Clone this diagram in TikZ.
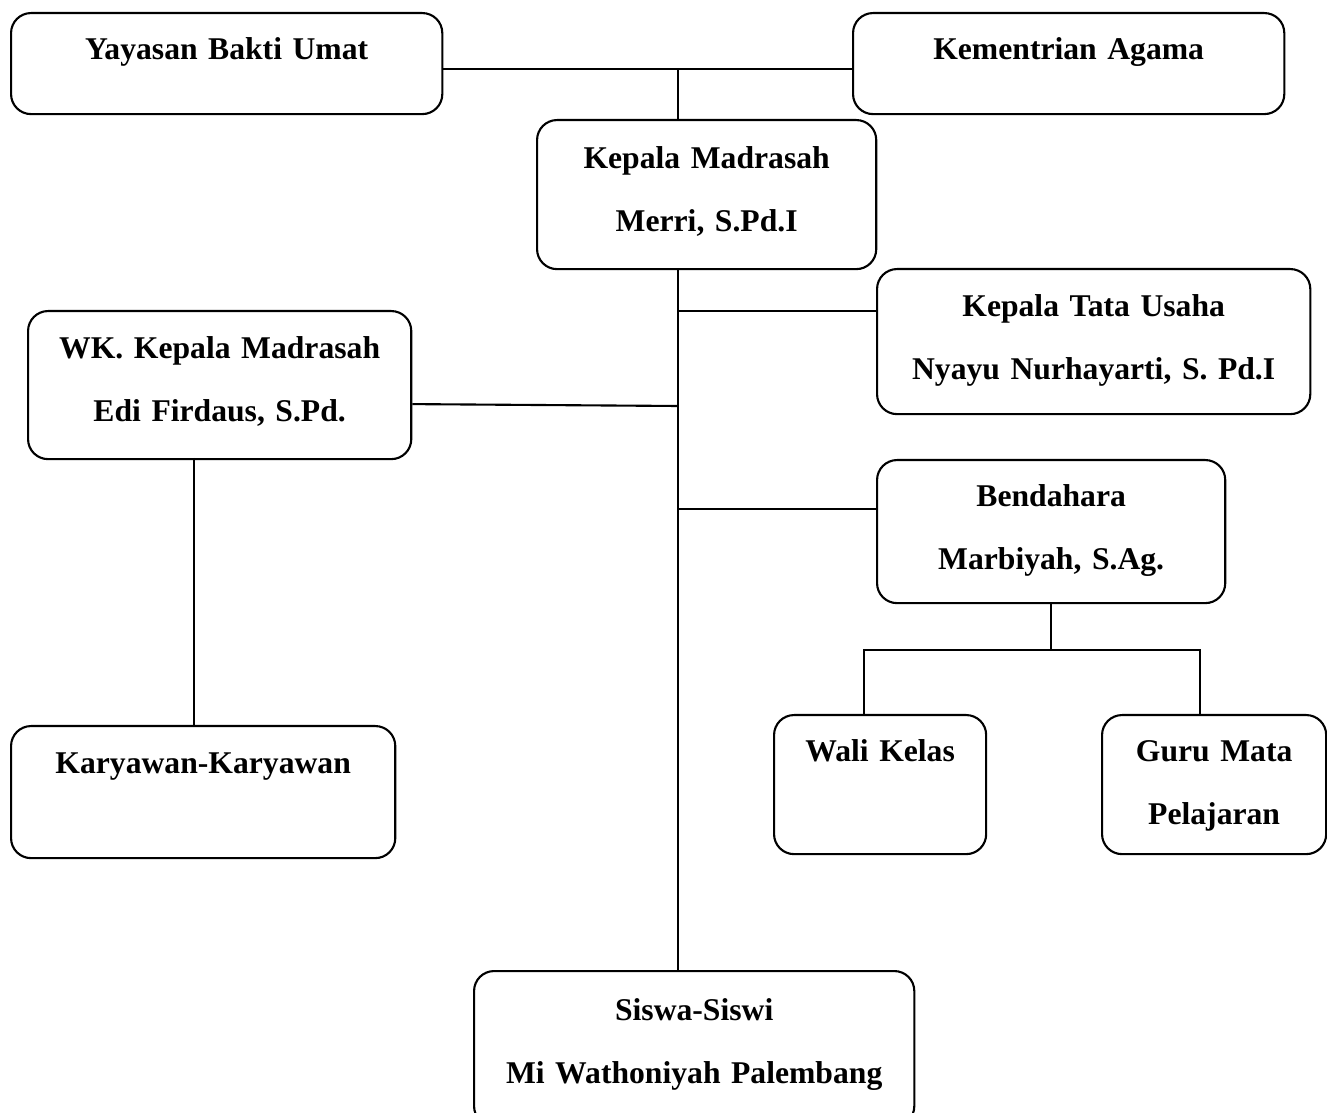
\documentclass[tikz,border=0pt]{standalone}
\usepackage{fontspec}
\setmainfont{Liberation Serif}
\usepackage{tikz}
\usetikzlibrary{positioning}

\tikzset{
  orgbox/.style n args={3}{draw, rounded corners=0.2cm, line width=0.6pt,
    anchor=north west, inner sep=0pt, align=center,
    text width=#1, text height=#2, text depth=#3,
    font=\fontsize{9}{17.9}\selectfont\bfseries},
  orgline/.style={line width=0.6pt}
}

\begin{document}
\begin{tikzpicture}[x=0.01cm, y=-0.01cm]
    \useasboundingbox (0,0) rectangle (1327,1113);
    % top level
    \node[orgbox={4.31cm}{0.46cm}{0.55cm}] (yay) at (10,12) {Yayasan Bakti Umat};
    \node[orgbox={4.31cm}{0.46cm}{0.55cm}] (kem) at (852,12) {Kementrian Agama};
    \node[orgbox={3.39cm}{0.48cm}{1.01cm}] (kep) at (536,119) {Kepala Madrasah\\Merri, S.Pd.I};
    % staff
    \node[orgbox={4.33cm}{0.47cm}{0.98cm}] (ktu) at (876,268) {Kepala Tata Usaha\\Nyayu Nurhayarti, S. Pd.I};
    \node[orgbox={3.83cm}{0.47cm}{1.01cm}] (wk) at (27,310) {WK. Kepala Madrasah\\Edi Firdaus, S.Pd.};
    \node[orgbox={3.48cm}{0.46cm}{0.97cm}] (ben) at (876,459) {Bendahara\\Marbiyah, S.Ag.};
    \node[orgbox={3.84cm}{0.47cm}{0.85cm}] (kar) at (10,725) {Karyawan-Karyawan};
    \node[orgbox={2.12cm}{0.46cm}{0.93cm}] (wal) at (773,714) {Wali Kelas};
    \node[orgbox={2.24cm}{0.46cm}{0.93cm}] (gur) at (1101,714) {Guru Mata\\Pelajaran};
    \node[orgbox={4.40cm}{0.49cm}{1.06cm}] (sis) at (473,970) {Siswa-Siswi\\Mi Wathoniyah Palembang};

    % junctions
    \coordinate (top) at (678,69);
    \coordinate (jk) at (678,311);
    \coordinate (jw) at (678,406);
    \coordinate (jb) at (678,509);
    \coordinate (wkx) at (194,458);
    \coordinate (bt) at (1051,650);
    \coordinate (bl) at (864,650);
    \coordinate (br) at (1200,650);

    % connectors
    \draw[orgline] (yay.east |- top) -- (kem.west |- top);
    \draw[orgline] (top) -- (top |- kep.north);
    \draw[orgline] (top |- kep.south) -- (top |- sis.north);
    \draw[orgline] (jk) -- (jk -| ktu.west);
    \draw[orgline] ([yshift=-0.19cm]wk.east) -- (jw);
    \draw[orgline] (jb) -- (jb -| ben.west);
    \draw[orgline] (wkx) -- (wkx |- kar.north);
    \draw[orgline] (ben.south -| bt) -- (bt);
    \draw[orgline] (bl |- wal.north) -- (bl) -- (br) -- (br |- gur.north);
\end{tikzpicture}
\end{document}
